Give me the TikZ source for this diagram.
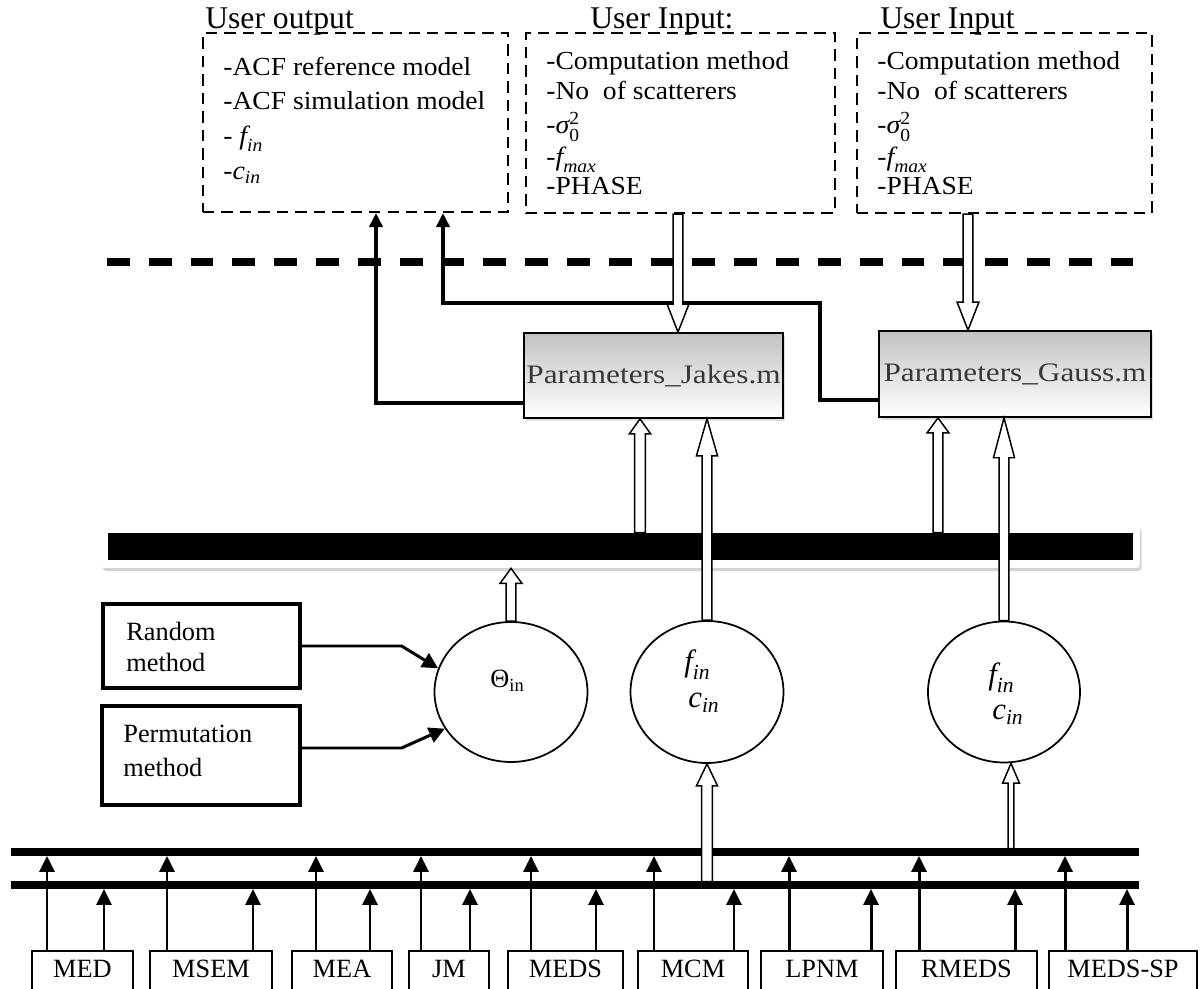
\documentclass[tikz,border=0pt]{standalone}
\usepackage{amsmath}
\usepackage{fontspec}
\setmainfont{Liberation Serif}
\newfontfamily\cambria[FakeStretch=1.06]{Liberation Serif}
\newfontfamily\cambriaw[FakeStretch=1.17]{Liberation Serif}
\usetikzlibrary{arrows.meta,calc,shapes.geometric,shadows}

% italic symbols used inside the dashed boxes
\newcommand\mtx[1]{{\fontsize{15}{16}\selectfont$#1$}}
% vertical hollow (block) arrow: tail point, tip point, half shaft width,
% half head width, signed head length (positive when pointing up)
\newcommand\hollow[5]{%
  \filldraw[hollowarrow] let \p1=(#1), \p2=(#2) in
    ({\x1-#3},\y1) -- ({\x1-#3},{\y2-(#5)}) -- ({\x1-#4},{\y2-(#5)}) -- (\x1,\y2)
    -- ({\x1+#4},{\y2-(#5)}) -- ({\x1+#3},{\y2-(#5)}) -- ({\x1+#3},\y1) -- cycle;}

\begin{document}
\begin{tikzpicture}[x=0.02cm, y=-0.02cm,
  ubox/.style={draw, line width=1.2pt, dash pattern=on 6.5pt off 4pt, inner sep=0pt},
  utitle/.style={anchor=base west, inner sep=0pt, font=\fontsize{18}{20}\selectfont},
  uline/.style={anchor=base west, inner sep=0pt, font=\cambria\fontsize{14.8}{16}\selectfont},
  pbox/.style={draw, line width=1pt, top color=black!24, bottom color=white, inner sep=0pt,
    text=black!78, font=\cambriaw\fontsize{15.2}{18}\selectfont,
    drop shadow={shadow xshift=1.2pt, shadow yshift=-1.5pt, opacity=0.25}},
  conn/.style={line width=1.9pt, -{Triangle[width=7.5pt,length=8pt]}},
  hollowarrow/.style={draw=black, fill=white, line width=0.85pt, line join=miter},
  sep/.style={line width=4pt, dash pattern=on 13pt off 10.8pt},
  barframe/.style={fill=white, rounded corners=2pt, inner sep=0pt,
    drop shadow={shadow xshift=1pt, shadow yshift=-1.8pt, opacity=0.35}},
  barblack/.style={fill=black, inner sep=0pt},
  orb/.style={draw, ellipse, line width=1pt, inner sep=0pt},
  mbox/.style={draw, line width=1.8pt, inner sep=0pt},
  mtext/.style={anchor=base west, inner sep=0pt, font=\fontsize{15}{17}\selectfont},
  mathlab/.style={anchor=base west, inner sep=0pt, font=\fontsize{17.5}{19}\selectfont},
  marr/.style={line width=1.7pt, -{Triangle[width=9pt,length=9pt]}},
  bus/.style={line width=4pt},
  lowbox/.style={draw, line width=0.9pt, anchor=north, minimum height=0.88cm, inner sep=0pt,
    text height=9.9pt, text depth=4pt, font=\fontsize{15}{17}\selectfont},
  busarrow/.style={line width=1.7pt, -{Triangle[width=8.5pt,length=9pt]}}]

\useasboundingbox (0,0) rectangle (1201,989);

% ---- user input / output panels
\node[ubox, minimum width=6.1cm, minimum height=3.58cm] (uout) at (355.5,122.5) {};
\node[ubox, minimum width=6.18cm, minimum height=3.6cm] (uin1) at (680.5,123) {};
\node[ubox, minimum width=5.9cm, minimum height=3.6cm] (uin2) at (1004.5,123) {};

\node[utitle] (uoutT) at (205,29) {User output};
\node[utitle] (uin1T) at (590,29) {User Input:};
\node[utitle] (uin2T) at (880,29) {User Input};

\node[uline] (o1) at (223,76) {-ACF reference model};
\node[uline] (o2) at (223,110) {-ACF simulation model};
\node[uline] (o3) at (223,145) {- \mtx{\textit{f}_{\textit{in}}}};
\node[uline] (o4) at (223,180) {-\mtx{\textit{c}_{\textit{in}}}};

\node[uline] (a1) at (546,70) {-Computation method};
\node[uline] (a2) at (546,100) {-No\ \ of scatterers};
\node[uline] (a3) at (546,134) {-\mtx{\textit{σ}_{\textup{0}}^{\textup{2}}}};
\node[uline] (a4) at (546,166) {-\mtx{\textit{f}_{\textit{max}}}};
\node[uline] (a5) at (546,195) {-PHASE};

\node[uline] (b1) at (877,70) {-Computation method};
\node[uline] (b2) at (877,100) {-No\ \ of scatterers};
\node[uline] (b3) at (877,134) {-\mtx{\textit{σ}_{\textup{0}}^{\textup{2}}}};
\node[uline] (b4) at (877,166) {-\mtx{\textit{f}_{\textit{max}}}};
\node[uline] (b5) at (877,195) {-PHASE};

% ---- separator
\coordinate (sepW) at (107,262);
\coordinate (sepE) at (1138,262);
\draw[sep] (sepW) -- (sepE);

% ---- parameter scripts
\node[pbox, minimum width=5.18cm, minimum height=1.7cm] (jakes) at (653.5,375.5) {Parameters\_Jakes.m};
\node[pbox, minimum width=5.44cm, minimum height=1.72cm] (gauss) at (1015,374) {Parameters\_Gauss.m};

\draw[conn] ($(jakes.west)+(0,27.5)$) -| ($(uout.south)+(20.5,0)$);
\draw[conn] ($(gauss.west)+(0,26)$) -- ++(-58,0) -- ++(0,-97) -| ($(uout.south)+(87.5,0)$);

% ---- black bar
\node[barframe, minimum width=20.78cm, minimum height=0.86cm] (frame) at (620.5,546.5) {};
\node[barblack, minimum width=20.5cm, minimum height=0.54cm] (bar) at (620.5,546.5) {};

% ---- generated quantities
\node[orb, minimum width=3.06cm, minimum height=2.8cm] (theta) at (511,692) {};
\node[orb, minimum width=3.06cm, minimum height=2.84cm] (fc1) at (707,692) {};
\node[orb, minimum width=3.04cm, minimum height=2.82cm] (fc2) at (1004,692) {};

\node[mtext] (thetaL) at (490,688) {Θ\textsubscript{in}};
\node[mathlab] (f1) at (684,672) {$\textit{f}_{\textit{in}}$};
\node[mathlab] (c1) at (688,708) {$\textit{c}_{\textit{in}}$};
\node[mathlab] (f2) at (988,685) {$\textit{f}_{\textit{in}}$};
\node[mathlab] (c2) at (992,720) {$\textit{c}_{\textit{in}}$};

% ---- phase methods
\node[mbox, minimum width=3.94cm, minimum height=1.68cm] (rand) at (201.5,646) {};
\node[mtext] (randA) at (126,641) {Random};
\node[mtext] (randB) at (126,672) {method};
\node[mbox, minimum width=3.96cm, minimum height=1.98cm] (perm) at (201,755.5) {};
\node[mtext] (permA) at (123,743) {Permutation};
\node[mtext] (permB) at (123,777) {method};

\draw[marr] (rand.east) -- ++(100,0) -- (theta.162);
\draw[marr] ($(perm.east)+(0,-7.5)$) -- ++(100,0) -- (theta.209);

% ---- buses
\coordinate (busUw) at (11,852);
\coordinate (busUe) at (1139,852);
\coordinate (busLw) at (11,885);
\coordinate (busLe) at (1139,885);
\draw[bus] (busUw) -- (busUe);
\draw[bus] (busLw) -- (busLe);

% ---- computation methods
\foreach \nm/\cx/\w/\lab/\a/\b in {
  med/82.5/2.02cm/MED/-35.5/21.5,
  msem/211/2.44cm/MSEM/-44/42,
  mea/342/2.0cm/MEA/-26/28,
  jm/449/1.6cm/JM/-28/21,
  meds/565.5/2.3cm/MEDS/-34.5/30.5,
  mcm/693/2.2cm/MCM/-39/41,
  lpnm/822/2.44cm/LPNM/-33/49,
  rmeds/966.5/2.82cm/RMEDS/-47.5/48.5,
  medssp/1123/2.96cm/MEDS-SP/-58/4}
{
  \node[lowbox, minimum width=\w] (\nm) at (\cx,950) {\lab};
  \draw[busarrow] ($(\nm.north)+(\a,0)$) -- ++(0,-94);
  \draw[busarrow] ($(\nm.north)+(\b,0)$) -- ++(0,-61);
}

% ---- hollow arrows
\coordinate (i1) at ($(uin1.south)+(-2.5,0)$);
\coordinate (i2) at ($(uin2.south)+(-36.5,0)$);
\coordinate (jA) at ($(jakes.south)+(-13.5,0)$);
\coordinate (gA) at ($(gauss.south)+(-77,0)$);

\hollow{i1}{i1 |- jakes.north}{2.8pt}{6.2pt}{-15.9pt}
\hollow{i2}{i2 |- gauss.north}{2.8pt}{6.2pt}{-15.9pt}
\hollow{jA |- bar.north}{jA}{3pt}{6pt}{8.5pt}
\hollow{fc1.north}{fc1.north |- jakes.south}{2.8pt}{6pt}{21pt}
\hollow{gA |- bar.north}{gA}{2.8pt}{6.2pt}{8.5pt}
\hollow{fc2.north}{fc2.north |- gauss.south}{2.8pt}{6pt}{22.7pt}
\hollow{theta.north}{theta.north |- frame.south}{2.8pt}{6.2pt}{8.5pt}
\hollow{$(fc1.south |- busLw)+(0,-3.5)$}{fc1.south}{3pt}{6pt}{12.5pt}
\hollow{$(fc2.south |- busUw)+(7,-3.5)$}{$(fc2.south)+(7,0)$}{1.7pt}{4.8pt}{11.3pt}

\end{tikzpicture}
\end{document}
